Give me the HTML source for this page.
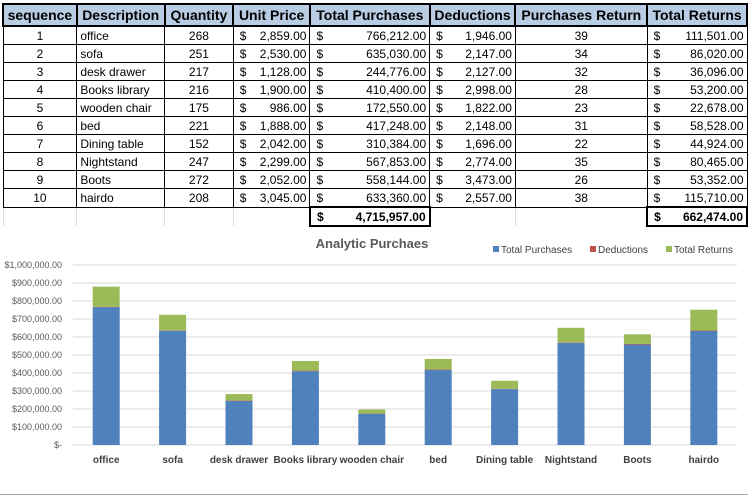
<!DOCTYPE html>
<html><head><meta charset="utf-8"><style>
body{margin:0;width:748px;height:496px;background:#fff;overflow:hidden;position:relative;font-family:"Liberation Sans",sans-serif}
table{position:absolute;left:2px;top:3px;border-collapse:collapse;table-layout:fixed;font-size:12px;color:#000}
td,th{height:17px;padding:0 3px;border:1px solid #000;white-space:nowrap;overflow:hidden}
th{background:#b8cce4;font-size:14px;font-weight:bold;height:20px;border:2px solid #000;padding:0 2px;text-align:center}
td.c{text-align:center}td.r{text-align:right}
.m{display:flex;justify-content:space-between;padding-left:3px}
tr.tot td{border:none;border-left:1px solid #ddd}
tr.tot td.b{border:2px solid #000;font-weight:bold}
</style></head><body>
<table>
<colgroup><col style="width:74px"><col style="width:88px"><col style="width:69px"><col style="width:77px"><col style="width:120px"><col style="width:86px"><col style="width:132px"><col style="width:100px"></colgroup>
<thead><tr><th>sequence</th><th>Description</th><th>Quantity</th><th>Unit Price</th><th>Total Purchases</th><th>Deductions</th><th>Purchases Return</th><th>Total Returns</th></tr></thead>
<tbody id="tb"></tbody>
</table>
<svg id="chart" style="position:absolute;left:0;top:230px" width="748" height="266"></svg>
<script>
const cats=["office","sofa","desk drawer","Books library","wooden chair","bed","Dining table","Nightstand","Boots","hairdo"];
const qty=[268,251,217,216,175,221,152,247,272,208];
const price=[2859,2530,1128,1900,986,1888,2042,2299,2052,3045];
const purchases=[766212,635030,244776,410400,172550,417248,310384,567853,558144,633360];
const deductions=[1946,2147,2127,2998,1822,2148,1696,2774,3473,2557];
const returnsQty=[39,34,32,28,23,31,22,35,26,38];
const returns=[111501,86020,36096,53200,22678,58528,44924,80465,53352,115710];
const yTicks=[0,100000,200000,300000,400000,500000,600000,700000,800000,900000,1000000];
const fmt=v=>v.toLocaleString('en-US',{minimumFractionDigits:2,maximumFractionDigits:2});
const money=v=>`<div class="m"><span>$</span><span>${fmt(v)}</span></div>`;
const tb=document.getElementById('tb');
cats.forEach((c,i)=>{
 const tr=document.createElement('tr');
 
 
 tr.innerHTML=`<td class="c">${i+1}</td><td>${c}</td><td class="c">${qty[i]}</td><td>${money(price[i])}</td><td>${money(purchases[i])}</td><td>${money(deductions[i])}</td><td class="c">${returnsQty[i]}</td><td>${money(returns[i])}</td>`;
 tb.appendChild(tr);
});
const sum=a=>a.reduce((x,y)=>x+y,0);
const tr=document.createElement('tr');tr.className='tot';


tr.innerHTML=`<td></td><td></td><td></td><td></td><td class="b">${money(sum(purchases))}</td><td></td><td></td><td class="b">${money(sum(returns))}</td>`;
tb.appendChild(tr);

const svg=document.getElementById('chart');const NS='http://www.w3.org/2000/svg';
function el(t,a,txt){const e=document.createElementNS(NS,t);for(const k in a)e.setAttribute(k,a[k]);if(txt!=null)e.textContent=txt;svg.appendChild(e);return e;}
const x0=73,x1=737,y0=215,yTop=35,maxV=1000000;
const band=(x1-x0)/cats.length;
const yS=v=>y0-(v/maxV)*(y0-yTop);
const xC=i=>x0+band*(i+0.5);
yTicks.forEach(t=>{
 const l=el('line',{x1:x0,x2:x1,y1:yS(t),y2:yS(t),stroke:'#d9d9d9','stroke-width':1});
 
 
 const tx=el('text',{x:62,y:yS(t)+3,'text-anchor':'end','font-size':'9','fill':'#595959'},t===0?'$-':'$'+fmt(t));
 
 
});
const bw=27;
cats.forEach((c,i)=>{
 let base=0;
 [[purchases,'#4f81bd','bar-purchases'],[deductions,'#c0504d','bar-deductions'],[returns,'#9bbb59','bar-returns']].forEach(([arr,col,nm])=>{
  const r=el('rect',{x:xC(i)-bw/2,y:yS(base+arr[i]),width:bw,height:yS(base)-yS(base+arr[i]),fill:col});
  
  
  base+=arr[i];
 });
 const t=el('text',{x:xC(i),y:233,'text-anchor':'middle','font-size':'10','font-weight':'bold','fill':'#404040'},c);
 
 
});
const title=el('text',{x:372,y:18,'text-anchor':'middle','font-size':'13','font-weight':'bold','fill':'#595959'},'Analytic Purchaes');


[['Total Purchases','#4f81bd',493],['Deductions','#c0504d',590],['Total Returns','#9bbb59',666]].forEach(([n,c,x])=>{
 const s=el('rect',{x:x,y:16,width:6,height:6,fill:c});
 
 
 const t=el('text',{x:x+8,y:23,'font-size':'10','fill':'#404040'},n);
 
 
});
const bl=el('line',{x1:0,x2:748,y1:264.5,y2:264.5,stroke:'#a6a6a6','stroke-width':1});


</script>
</body></html>
